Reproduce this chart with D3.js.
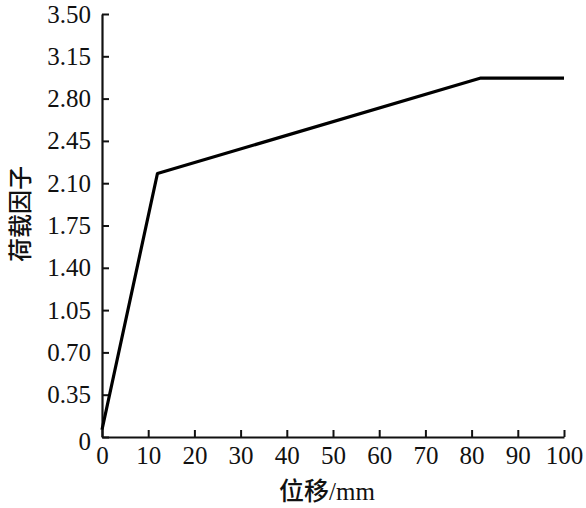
<!DOCTYPE html>
<html>
<head>
<meta charset="utf-8">
<script src="https://cdn.jsdelivr.net/npm/d3@7"></script>
<style>
    body { margin: 0; background: #fff; }
    svg text { font-family: "Liberation Serif", "Times New Roman", serif; fill: #111; }
    .cjk { font-family: "Noto Sans CJK SC", sans-serif; font-weight: 500; }
</style>
</head>
<body>
<script>
// displacement (mm) vs load factor
var dispX = [0, 12, 82, 100];
var loadY = [0.06, 2.18, 2.97, 2.97];
var xTicks = [0, 10, 20, 30, 40, 50, 60, 70, 80, 90, 100];
var yTicks = [0, 0.35, 0.70, 1.05, 1.40, 1.75, 2.10, 2.45, 2.80, 3.15, 3.50];
var yTickLabels = ["0", "0.35", "0.70", "1.05", "1.40", "1.75", "2.10", "2.45", "2.80", "3.15", "3.50"];

var width = 586, height = 508;
var margins = {top: 14, left: 102, right: 22, bottom: 71};

var svg = d3.select("body").append("svg")
    .attr("width", width)
    .attr("height", height);

var x = d3.scaleLinear().domain([0, 100]).range([margins.left, width - margins.right]);
var y = d3.scaleLinear().domain([0, 3.5]).range([height - margins.bottom, margins.top]);

// x axis, ticks pointing inward
var xAxis = svg.append("g")
    .attr("transform", "translate(0," + y(0) + ")")
    .call(d3.axisBottom(x).tickValues(xTicks).tickSize(-7).tickPadding(9).tickSizeOuter(0));

// y axis, ticks pointing inward
var yAxis = svg.append("g")
    .attr("transform", "translate(" + x(0) + ",0)")
    .call(d3.axisLeft(y).tickValues(yTicks).tickSize(-7).tickPadding(11).tickSizeOuter(0)
        .tickFormat(function(d, i){ return yTickLabels[i]; }));

[xAxis, yAxis].forEach(function(a){
    a.selectAll("path").attr("stroke", "#111").attr("stroke-width", 2.2);
    a.selectAll("line").attr("stroke", "#111").attr("stroke-width", 2);
    a.selectAll("text").style("font-size", "25px").attr("fill", "#111");
});
xAxis.selectAll("text").attr("dy", "0.72em");
yAxis.select(".tick text").attr("dy", "0.5em");

// curve
var line = d3.line()
    .x(function(d, i){ return x(dispX[i]); })
    .y(function(d){ return y(d); });

svg.append("path")
    .datum(loadY)
    .attr("d", line)
    .attr("fill", "none")
    .attr("stroke", "#000")
    .attr("stroke-width", 3.2)
    .attr("stroke-linejoin", "round");

// axis titles
var xt = svg.append("text")
    .attr("x", 327)
    .attr("y", 500)
    .attr("text-anchor", "middle")
    .style("font-size", "25px");
xt.append("tspan").attr("class", "cjk").text("位移");
xt.append("tspan").text("/mm");

svg.append("text")
    .attr("class", "cjk")
    .attr("transform", "translate(29," + 214 + ") rotate(-90)")
    .attr("text-anchor", "middle")
    .style("font-size", "24px")
    .text("荷载因子");
</script>
</body>
</html>
